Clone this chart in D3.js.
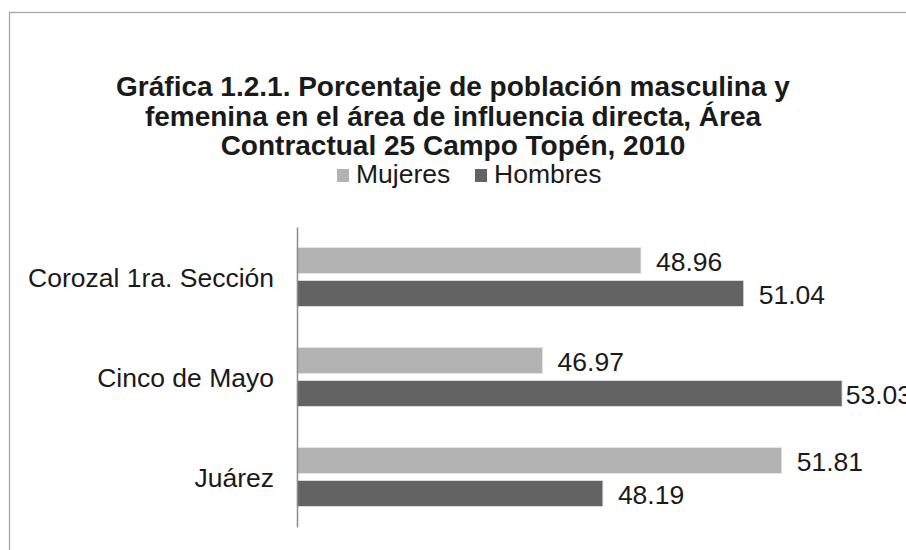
<!DOCTYPE html>
<html>
<head>
<meta charset="utf-8">
<script src="https://cdn.jsdelivr.net/npm/d3@7"></script>
<style>
  body { margin: 0; background: #fff; }
  svg { display: block; font-family: "Liberation Sans", Arial, sans-serif; }
</style>
</head>
<body>
<div id="chart"></div>
<script>

var categories = ["Corozal 1ra. Sección", "Cinco de Mayo", "Juárez"];
var series = ["Mujeres", "Hombres"];
var mujeres = [48.96, 46.97, 51.81];
var hombres = [51.04, 53.03, 48.19];
var titleLines = [
  "Gráfica 1.2.1. Porcentaje de población masculina y",
  "femenina en el área de influencia directa, Área",
  "Contractual 25 Campo Topén, 2010"
];

var colors = {Mujeres: "#b3b3b3", Hombres: "#636363"};

var W = 906, H = 550;
var margin = {top: 227, right: 16, bottom: 23, left: 297};

var svg = d3.select("#chart")
  .append("svg")
    .attr("width", W)
    .attr("height", H);

// frame
svg.append("rect")
  .attr("x", 9.5).attr("y", 12.5)
  .attr("width", W).attr("height", H)
  .style("fill", "none")
  .style("stroke", "#a6a6a6")
  .style("stroke-width", 1.3);

// title
svg.append("text")
  .attr("text-anchor", "middle")
  .style("font-size", "28px")
  .style("font-weight", "bold")
  .style("fill", "#1a1a1a")
  .selectAll("tspan")
  .data(titleLines)
  .enter()
  .append("tspan")
    .attr("x", 453)
    .attr("y", function (d, i) { return 96 + i * 29.5; })
    .text(function (d) { return d; });

// legend
var legendX = [337, 475];
var legend = svg.append("g")
  .selectAll("g")
  .data(series)
  .enter()
  .append("g")
    .attr("transform", function (d, i) { return "translate(" + legendX[i] + ",169)"; });
legend.append("rect")
  .attr("width", 12).attr("height", 13)
  .style("fill", function (d) { return colors[d]; });
legend.append("text")
  .attr("x", 19).attr("y", 14)
  .style("font-size", "26.5px")
  .style("fill", "#1a1a1a")
  .text(function (d) { return d; });

// scales
var x = d3.scaleLinear()
  .domain([42, 54])
  .range([margin.left, 890]);

var y0 = d3.scaleBand()
  .domain(categories)
  .range([margin.top, H - margin.bottom])
  .paddingInner(0.41)
  .paddingOuter(0.205);

var y1 = d3.scaleBand()
  .domain(series)
  .range([0, y0.bandwidth()])
  .paddingInner(0.212);

var rows = categories.map(function (c, i) {
  return {cat: c, vals: [
    {s: "Mujeres", v: mujeres[i]},
    {s: "Hombres", v: hombres[i]}
  ]};
});

// bars
var groups = svg.append("g")
  .selectAll("g")
  .data(rows)
  .enter()
  .append("g")
    .attr("transform", function (d) { return "translate(0," + y0(d.cat) + ")"; });

groups.selectAll("rect")
  .data(function (d) { return d.vals; })
  .enter()
  .append("rect")
    .attr("x", x(42))
    .attr("y", function (d) { return y1(d.s); })
    .attr("width", function (d) { return x(d.v) - x(42); })
    .attr("height", y1.bandwidth())
    .style("fill", function (d) { return colors[d.s]; })
    .style("stroke", "#e6e6e6")
    .style("stroke-width", 0.8);

// value labels
groups.selectAll("text.val")
  .data(function (d) { return d.vals; })
  .enter()
  .append("text")
    .attr("class", "val")
    .attr("y", function (d) { return y1(d.s) + y1.bandwidth() / 2; })
    .attr("dy", "0.38em")
    .style("font-size", "26.5px")
    .style("fill", "#1a1a1a")
    .text(function (d) { return d.v.toFixed(2); })
    .attr("x", function (d) {
      var len = this.getComputedTextLength();
      return Math.min(x(d.v) + 15, W + 6 - len);
    });

// category axis
var yAxis = svg.append("g")
  .attr("transform", "translate(" + margin.left + ",0)")
  .call(d3.axisLeft(y0).tickSize(0).tickPadding(23));
yAxis.select(".domain")
  .attr("stroke", "#8c8c8c")
  .attr("stroke-width", 1.5);
yAxis.selectAll("text")
  .attr("dy", "0.36em")
  .style("font-size", "26.5px")
  .style("font-family", "Liberation Sans, Arial, sans-serif")
  .style("fill", "#1a1a1a");

</script>
</body>
</html>
